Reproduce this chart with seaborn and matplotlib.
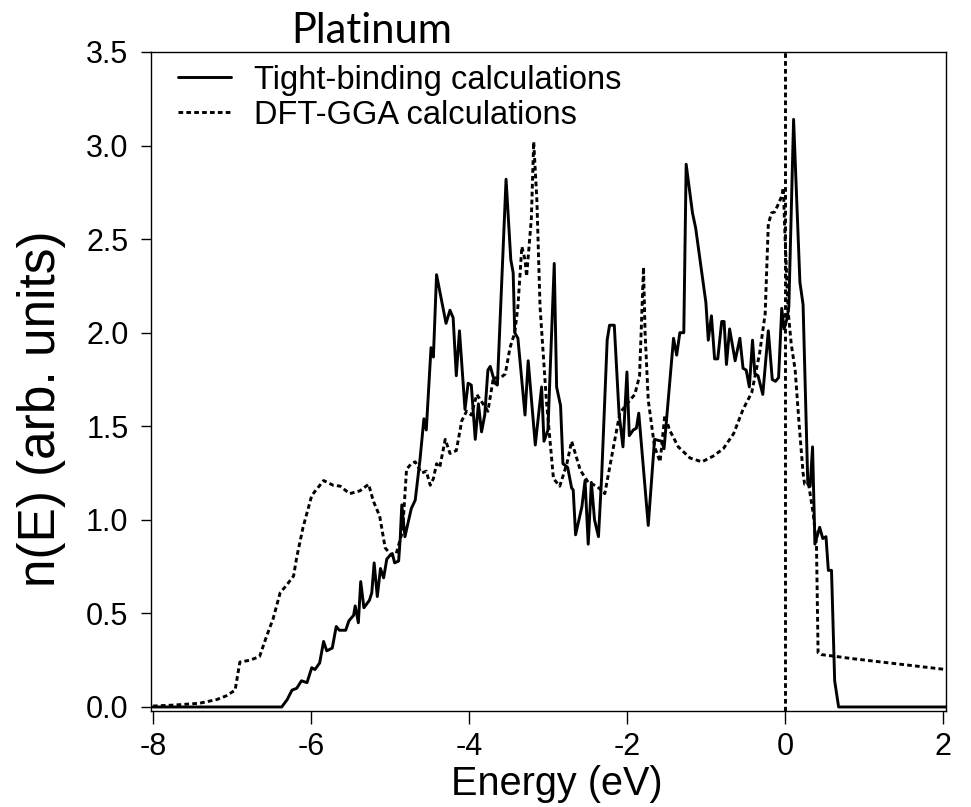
import matplotlib
matplotlib.use("Agg")
import matplotlib.pyplot as plt
import seaborn as sns
import pandas as pd

# Tight-binding DOS (solid)
tb_energy = [-8.0, -6.37, -6.30, -6.24, -6.18, -6.12, -6.05, -5.99, -5.95, -5.89, -5.84, -5.80,
             -5.73, -5.68, -5.64, -5.56, -5.52, -5.46, -5.44, -5.40, -5.37, -5.33, -5.26, -5.23,
             -5.20, -5.16, -5.12, -5.08, -5.04, -5.00, -4.97, -4.94, -4.89, -4.87, -4.85, -4.81,
             -4.73, -4.68, -4.62, -4.57, -4.54, -4.48, -4.45, -4.41, -4.29, -4.24, -4.20, -4.16,
             -4.12, -4.05, -4.01, -3.97, -3.92, -3.88, -3.84, -3.80, -3.76, -3.73, -3.67, -3.64,
             -3.53, -3.47, -3.44, -3.42, -3.38, -3.29, -3.25, -3.16, -3.08, -3.05, -3.00, -2.92,
             -2.89, -2.84, -2.81, -2.75, -2.70, -2.68, -2.65, -2.57, -2.53, -2.49, -2.45, -2.41,
             -2.36, -2.32, -2.25, -2.22, -2.16, -2.10, -2.05, -2.00, -1.97, -1.92, -1.88, -1.85,
             -1.73, -1.65, -1.56, -1.53, -1.41, -1.37, -1.33, -1.28, -1.25, -1.17, -1.13, -1.00,
             -0.97, -0.93, -0.89, -0.85, -0.80, -0.77, -0.74, -0.70, -0.63, -0.57, -0.53, -0.49,
             -0.45, -0.41, -0.38, -0.34, -0.28, -0.21, -0.16, -0.12, -0.08, -0.04, -0.01, 0.03,
             0.05, 0.11, 0.19, 0.23, 0.29, 0.32, 0.35, 0.38, 0.44, 0.48, 0.52, 0.55, 0.59, 0.63,
             0.68, 2.04]
tb_dos = [0.0, 0.0, 0.04, 0.09, 0.10, 0.14, 0.13, 0.21, 0.20, 0.235, 0.35, 0.30,
          0.315, 0.43, 0.41, 0.41, 0.46, 0.49, 0.54, 0.45, 0.67, 0.53, 0.57, 0.61,
          0.77, 0.59, 0.74, 0.69, 0.79, 0.81, 0.82, 0.77, 0.78, 0.90, 1.08, 0.91,
          1.06, 1.105, 1.32, 1.54, 1.48, 1.92, 1.87, 2.31, 2.05, 2.12, 2.08, 1.77,
          2.01, 1.59, 1.73, 1.72, 1.43, 1.62, 1.47, 1.56, 1.80, 1.82, 1.73, 1.72,
          2.82, 2.39, 2.32, 2.00, 1.97, 1.56, 1.85, 1.40, 1.71, 1.42, 1.48, 2.37,
          1.71, 1.61, 1.30, 1.28, 1.17, 1.16, 0.92, 1.07, 1.21, 0.87, 1.20, 1.00,
          0.91, 1.23, 1.96, 2.04, 2.04, 1.57, 1.39, 1.79, 1.45, 1.48, 1.49, 1.57,
          0.97, 1.43, 1.42, 1.38, 1.97, 1.88, 2.00, 2.00, 2.90, 2.64, 2.56, 2.16,
          1.96, 2.09, 1.86, 1.86, 2.06, 2.06, 1.83, 2.02, 1.85, 1.97, 1.81, 1.80,
          1.71, 1.96, 1.78, 1.77, 1.67, 2.01, 1.75, 1.74, 1.76, 2.13, 2.02, 2.08,
          2.14, 3.14, 2.27, 2.15, 1.19, 1.18, 1.39, 0.87, 0.96, 0.90, 0.91, 0.73, 0.73, 0.14,
          0.0, 0.0]

# DFT-GGA DOS (dashed)
dft_energy = [-8.0, -7.74, -7.41, -7.19, -7.07, -6.96, -6.90, -6.77, -6.65, -6.56, -6.48, -6.39,
              -6.31, -6.22, -6.18, -6.10, -5.99, -5.84, -5.72, -5.63, -5.51, -5.38, -5.27, -5.21,
              -5.13, -5.06, -4.98, -4.92, -4.84, -4.79, -4.73, -4.68, -4.60, -4.54, -4.49, -4.45,
              -4.41, -4.37, -4.30, -4.24, -4.16, -4.09, -4.03, -3.97, -3.90, -3.76, -3.69, -3.61,
              -3.54, -3.48, -3.42, -3.38, -3.33, -3.29, -3.27, -3.21, -3.18, -3.14, -3.10, -3.02,
              -2.93, -2.85, -2.76, -2.70, -2.59, -2.49, -2.38, -2.28, -2.17, -2.09, -2.00, -1.90,
              -1.84, -1.79, -1.77, -1.73, -1.65, -1.58, -1.52, -1.46, -1.35, -1.20, -1.05, -0.91,
              -0.78, -0.65, -0.53, -0.42, -0.32, -0.25, -0.21, -0.17, -0.13, -0.08, -0.04, -0.02,
              0.00, 0.04, 0.08, 0.13, 0.18, 0.23, 0.25, 0.30, 0.36, 0.40, 0.42, 0.46, 0.65, 0.82,
              2.04]
dft_dos = [0.005, 0.01, 0.02, 0.04, 0.06, 0.09, 0.24, 0.25, 0.27, 0.38, 0.47, 0.61,
           0.65, 0.70, 0.80, 0.96, 1.13, 1.21, 1.185, 1.18, 1.14, 1.155, 1.19, 1.10,
           1.02, 0.85, 0.81, 0.82, 0.94, 1.27, 1.30, 1.31, 1.25, 1.26, 1.185, 1.22,
           1.30, 1.28, 1.43, 1.355, 1.37, 1.53, 1.58, 1.56, 1.67, 1.58, 1.76, 1.755,
           1.78, 1.92, 2.00, 2.14, 2.46, 2.39, 2.30, 2.61, 3.02, 2.71, 2.14, 1.64,
           1.22, 1.18, 1.30, 1.42, 1.265, 1.20, 1.18, 1.14, 1.39, 1.57, 1.62, 1.67,
           1.77, 2.35, 2.00, 1.64, 1.39, 1.31, 1.56, 1.48, 1.39, 1.33, 1.31, 1.34,
           1.38, 1.46, 1.59, 1.68, 1.89, 2.10, 2.58, 2.64, 2.645, 2.69, 2.73, 2.775,
           2.53, 2.12, 1.94, 1.80, 1.51, 1.25, 1.19, 1.19, 1.03, 0.86, 0.29, 0.28, 0.27, 0.26,
           0.20]

x_ticks = [-8, -6, -4, -2, 0, 2]
y_ticks = [0.0, 0.5, 1.0, 1.5, 2.0, 2.5, 3.0, 3.5]
series_labels = ["Tight-binding calculations", "DFT-GGA calculations"]

sns.set_theme(style="ticks")
plt.rcParams['font.family'] = ['Liberation Sans', 'DejaVu Sans']
plt.rcParams['axes.unicode_minus'] = False
plt.rcParams['text.color'] = 'black'
plt.rcParams['axes.labelcolor'] = 'black'

fig = plt.figure(figsize=(9.71, 8.07), dpi=100)
ax = fig.add_axes([0.1555, 0.1193, 0.8188, 0.8163])

tb = pd.DataFrame({"E": tb_energy, "n": tb_dos})
dft = pd.DataFrame({"E": dft_energy, "n": dft_dos})

dash = (0, (1.6, 1.1))
sns.lineplot(data=tb, x="E", y="n", ax=ax, color="black", lw=2.1, estimator=None,
             sort=False, label=series_labels[0])
sns.lineplot(data=dft, x="E", y="n", ax=ax, color="black", lw=2.1, estimator=None,
             sort=False, linestyle=dash, label=series_labels[1])
ax.axvline(0, color="black", lw=2.1, linestyle=dash)

ax.set_xlim(-8.025, 2.04)
ax.set_ylim(-0.02, 3.5)
ax.set_xticks(x_ticks)
ax.set_xticklabels([str(t) for t in x_ticks])
ax.set_yticks(y_ticks)
ax.set_yticklabels([f"{t:.1f}" for t in y_ticks])

for s in ax.spines.values():
    s.set_visible(True)
    s.set_linewidth(1.0)
    s.set_color("black")
ax.tick_params(axis="both", direction="out", width=1.0, labelsize=22,
               color="black", labelcolor="black")
ax.tick_params(axis="y", length=7.2, pad=9)
ax.tick_params(axis="x", length=9.4, pad=6)

ax.set_xlabel("Energy (eV)", fontsize=28.5)
ax.set_ylabel("n(E) (arb. units)", fontsize=37)
ax.xaxis.label.set_va("baseline")
ax.yaxis.label.set_va("center")
ax.xaxis.set_label_coords(0.511, -0.128)
ax.yaxis.set_label_coords(-0.138, 0.458)

leg = ax.legend(loc="upper left", bbox_to_anchor=(0.012, 1.008), frameon=False, fontsize=23.5,
                handlelength=1.62, handletextpad=0.68, labelspacing=0.12, borderaxespad=0.15)

fig.text(0.383, 0.962, "Platinum", fontsize=30, family=["Lato", "DejaVu Sans"],
         ha="center", va="center", color="black")

fig.savefig("out.png", dpi=100)
